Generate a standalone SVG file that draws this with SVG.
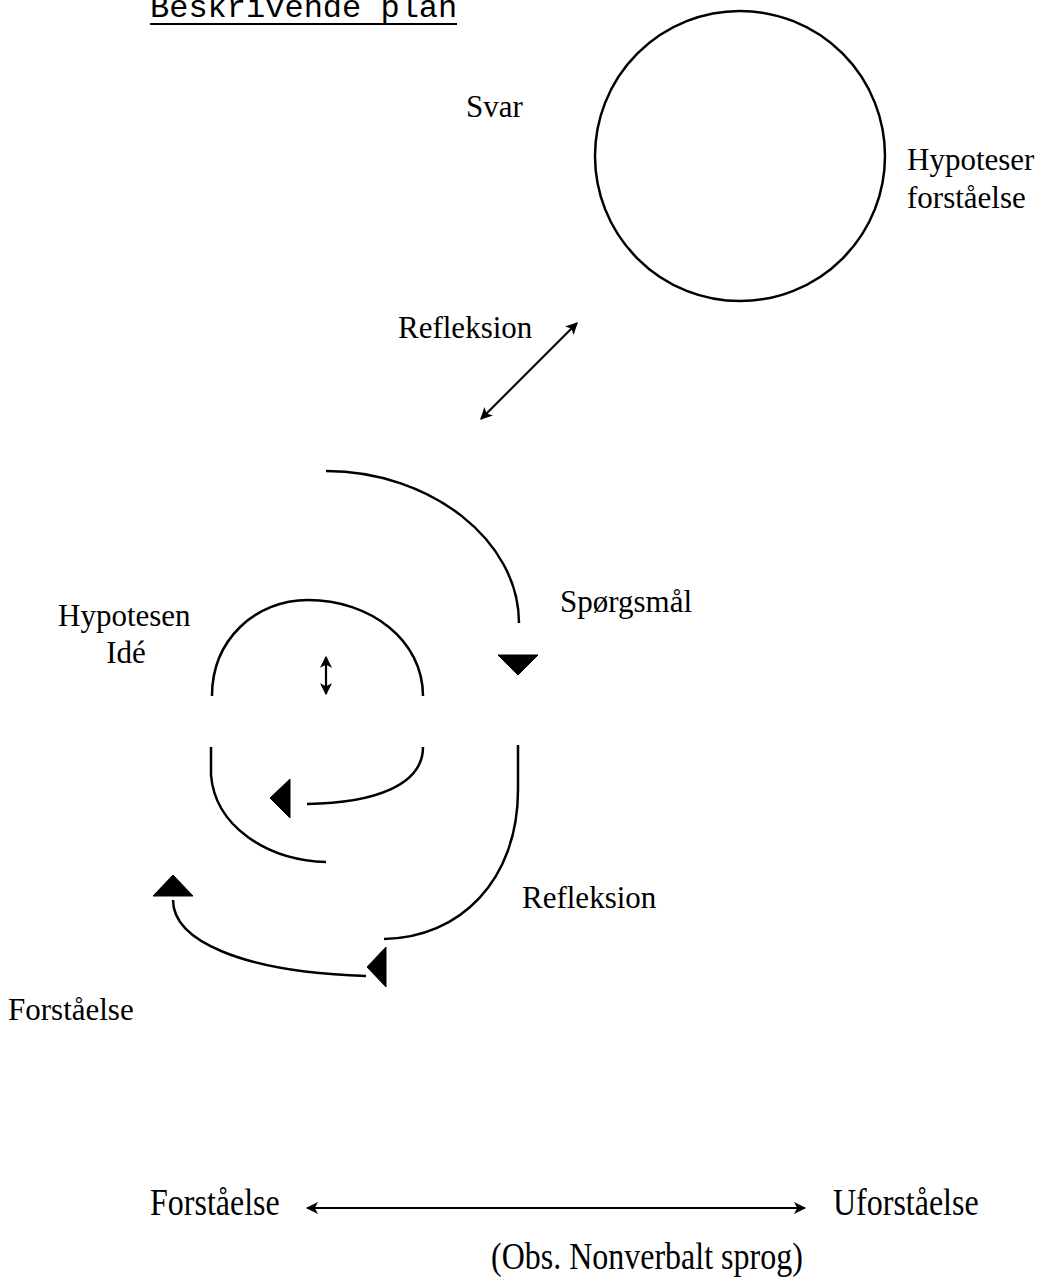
<svg xmlns="http://www.w3.org/2000/svg" width="1043" height="1280" viewBox="0 0 1043 1280">
  <style>
    .lbl { font-family: "Liberation Serif", "Times New Roman", serif; font-size: 31px; fill: #000; }
    .tall { font-family: "Liberation Serif", "Times New Roman", serif; font-size: 32px; fill: #000; }
    .title { font-family: "Liberation Mono", "Courier New", monospace; font-size: 32px; fill: #000; }
    .curve { fill: none; stroke: #000; stroke-width: 2.5; stroke-linecap: butt; }
    .line { fill: none; stroke: #000; stroke-width: 2.2; }
    .head { fill: #000; stroke: #000; stroke-width: 1; stroke-linejoin: round; }
  </style>
  <defs>
    <marker id="arr" viewBox="0 0 10 10" refX="9" refY="5" markerWidth="5.5" markerHeight="5.5" orient="auto-start-reverse" markerUnits="strokeWidth">
      <path d="M0,0 L10,5 L0,10 L2.5,5 Z" fill="#000"/>
    </marker>
  </defs>
  <rect width="1043" height="1280" fill="#fff"/>

  <!-- heading -->
  <g id="title">
    <text class="title" x="150" y="17">Beskrivende plan</text>
    <line x1="150" y1="24" x2="457" y2="24" stroke="#000" stroke-width="2"/>
  </g>

  <!-- top circle with its labels -->
  <g id="circle">
    <circle cx="740" cy="156" r="145" class="curve"/>
  </g>
  <g id="svar"><text class="lbl" x="466" y="117">Svar</text></g>
  <g id="hypoteser">
    <text class="lbl" x="907" y="170">Hypoteser</text>
    <text class="lbl" x="907" y="208">forståelse</text>
  </g>
  <g id="refleksion-top"><text class="lbl" x="398" y="338">Refleksion</text></g>

  <!-- cycle labels -->
  <g id="spoergsmaal"><text class="lbl" x="560" y="612">Spørgsmål</text></g>
  <g id="hypotesen">
    <text class="lbl" x="58" y="626">Hypotesen</text>
    <text class="lbl" x="126" y="663" text-anchor="middle">Idé</text>
  </g>
  <g id="refleksion-low"><text class="lbl" x="522" y="908">Refleksion</text></g>
  <g id="forstaaelse-left"><text class="lbl" x="8" y="1020">Forståelse</text></g>

  <!-- scale at the bottom (text set slightly tall) -->
  <g id="forstaaelse-scale"><text class="tall" transform="translate(150,1215) scale(1,1.2)">Forståelse</text></g>
  <g id="uforstaaelse"><text class="tall" transform="translate(833,1215) scale(1,1.2)">Uforståelse</text></g>
  <g id="obs"><text class="tall" transform="translate(491,1269) scale(1,1.2)">(Obs. Nonverbalt sprog)</text></g>

  <!-- connectors -->
  <g id="connectors">
    <line class="line" x1="481" y1="419" x2="577" y2="323" marker-start="url(#arr)" marker-end="url(#arr)"/>
    <line class="line" x1="326" y1="657" x2="326" y2="694" marker-start="url(#arr)" marker-end="url(#arr)"/>
    <line class="line" x1="307" y1="1208" x2="805" y2="1208" stroke-width="2.5" marker-start="url(#arr)" marker-end="url(#arr)"/>

    <!-- outer arc into the down arrow -->
    <path class="curve" d="M326,471 C430,471 519,540 519,623"/>
    <polygon class="head" points="498,655 538,655 518,675"/>

    <!-- inner arch -->
    <path class="curve" d="M212,696 C212,640 255,600 308,600 C370,600 423,640 423,696"/>

    <!-- inner return arc -->
    <path class="curve" d="M423,747 C423,785 375,803 307,804"/>
    <polygon class="head" points="270,798 290,779 290,818"/>

    <!-- inner left arc -->
    <path class="curve" d="M211,747 L211,775 C215,825 265,860 326,862"/>

    <!-- outer right arc -->
    <path class="curve" d="M518,745 L518,790 C518,880 460,938 384,939"/>
    <polygon class="head" points="367,967 386,947 386,987"/>

    <!-- bottom arc to up arrow -->
    <path class="curve" d="M173,900 C173,940 240,972 366,976"/>
    <polygon class="head" points="173,875 153,896 193,896"/>
  </g>
</svg>
